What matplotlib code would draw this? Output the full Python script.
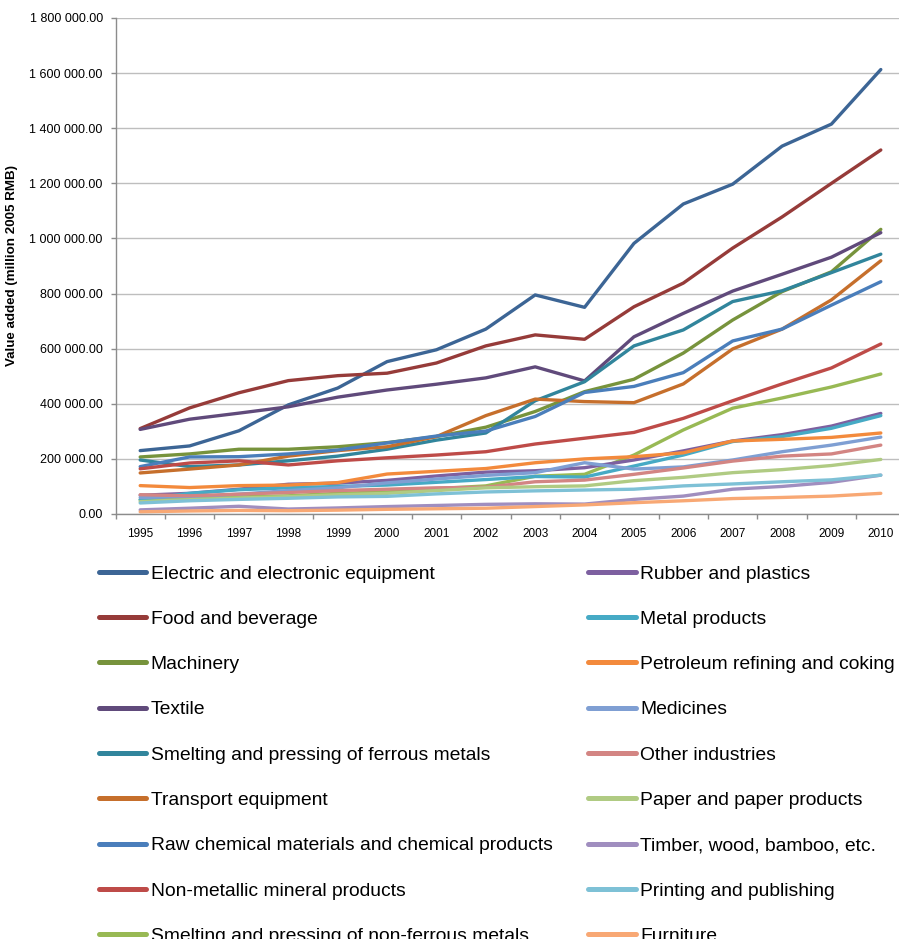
import matplotlib
matplotlib.use("Agg")
import matplotlib.pyplot as plt
import numpy as np
from matplotlib.ticker import FuncFormatter, FixedLocator

years = list(range(1995, 2011))

# values in thousand million 2005 RMB (multiplied by 1000 when plotted)
electric   = [230, 247, 302, 396, 457, 553, 596, 671, 795, 750, 982, 1125, 1197, 1335, 1415, 1613]
food       = [310, 385, 440, 484, 502, 511, 548, 610, 650, 634, 752, 838, 965, 1078, 1200, 1321]
machinery  = [207, 218, 235, 235, 244, 259, 281, 315, 372, 444, 489, 584, 704, 807, 879, 1033]
textile    = [307, 344, 366, 389, 424, 450, 471, 494, 534, 483, 643, 728, 809, 870, 932, 1021]
ferrous    = [196, 172, 178, 193, 210, 235, 268, 294, 411, 480, 610, 668, 771, 810, 876, 943]
transport  = [149, 163, 178, 210, 230, 244, 281, 357, 417, 408, 404, 472, 599, 671, 777, 919]
rawchem    = [172, 207, 208, 218, 232, 258, 283, 301, 354, 441, 463, 513, 628, 671, 758, 843]
nonmetal   = [164, 185, 193, 178, 193, 204, 214, 226, 254, 275, 296, 347, 411, 472, 530, 617]
nonferrous = [52, 57, 62, 66, 75, 80, 92, 102, 137, 144, 214, 305, 384, 421, 461, 508]
rubber     = [68, 75, 90, 108, 112, 122, 138, 152, 157, 168, 196, 229, 265, 288, 319, 365]
metal      = [52, 75, 88, 95, 100, 105, 115, 125, 136, 134, 174, 214, 263, 281, 311, 357]
petroleum  = [103, 96, 103, 105, 114, 145, 155, 165, 186, 200, 208, 222, 265, 271, 278, 294]
medicines  = [60, 63, 72, 85, 95, 113, 127, 140, 150, 186, 163, 171, 196, 226, 250, 279]
other      = [70, 66, 72, 78, 85, 90, 95, 97, 117, 123, 144, 167, 192, 210, 218, 250]
paper      = [45, 52, 58, 63, 70, 75, 85, 95, 99, 102, 121, 133, 150, 161, 176, 198]
timber     = [15, 21, 28, 18, 22, 27, 31, 35, 37, 36, 53, 65, 90, 100, 115, 141]
printing   = [40, 48, 53, 57, 62, 64, 73, 80, 84, 87, 90, 102, 109, 117, 124, 141]
furniture  = [8, 11, 13, 12, 14, 17, 19, 21, 27, 33, 41, 48, 56, 60, 65, 75]

labels = [
    "Electric and electronic equipment", "Food and beverage", "Machinery", "Textile",
    "Smelting and pressing of ferrous metals", "Transport equipment",
    "Raw chemical materials and chemical products", "Non-metallic mineral products",
    "Smelting and pressing of non-ferrous metals", "Rubber and plastics", "Metal products",
    "Petroleum refining and coking", "Medicines", "Other industries", "Paper and paper products",
    "Timber, wood, bamboo, etc.", "Printing and publishing", "Furniture",
]
series = [electric, food, machinery, textile, ferrous, transport, rawchem, nonmetal,
          nonferrous, rubber, metal, petroleum, medicines, other, paper, timber, printing, furniture]
colors = ["#3C6595", "#963B39", "#77933C", "#604A7B", "#31859C", "#C66F2C",
          "#4A7EBB", "#BE4B48", "#98B954", "#7D60A0", "#46AAC5", "#F38A3C",
          "#7F9FD3", "#D38583", "#B0CB83", "#A08EBF", "#7EC1D6", "#F8A874"]

ytick_vals = [0, 200000, 400000, 600000, 800000, 1000000, 1200000, 1400000, 1600000, 1800000]

plt.rcParams['font.family'] = ['Liberation Sans', 'DejaVu Sans']

W, H = 899, 939
fig = plt.figure(figsize=(W / 100, H / 100), dpi=100)
ax = fig.add_axes([115.5 / W, (H - 514) / H, 790 / W, 496 / H])

for vals, lab, col in zip(series, labels, colors):
    ax.plot(years, np.array(vals) * 1000, color=col, lw=2.4, label=lab,
            solid_capstyle='round', solid_joinstyle='round')

ax.set_xlim(1994.5, 2010.5)
ax.set_ylim(0, 1800000)
ax.yaxis.set_major_locator(FixedLocator(ytick_vals))
ax.yaxis.set_major_formatter(FuncFormatter(lambda v, p: f"{v:,.2f}".replace(",", " ")))
ax.xaxis.set_major_locator(FixedLocator(years))
ax.xaxis.set_minor_locator(FixedLocator([y - 0.5 for y in years] + [2010.5]))
ax.xaxis.set_major_formatter(FuncFormatter(lambda v, p: f"{int(round(v))}"))

ax.grid(axis='y', color='#BEBEBE', lw=1.0)
ax.set_axisbelow(True)
for s in ['top', 'right']:
    ax.spines[s].set_visible(False)
for s in ['left', 'bottom']:
    ax.spines[s].set_color('#8C8C8C')
    ax.spines[s].set_linewidth(1.0)

ax.tick_params(axis='y', which='major', length=3.6, width=1, color='#8C8C8C',
               labelsize=9, pad=5.5, labelcolor='#000000')
ax.tick_params(axis='x', which='major', length=0, labelsize=8.5, pad=10, labelcolor='#000000')
ax.tick_params(axis='x', which='minor', length=3.6, width=1, color='#8C8C8C')

ax.set_ylabel("Value added (million 2005 RMB)", fontsize=9.6, fontweight='bold')
ax.yaxis.set_label_coords((18 - 115.5) / 790, 0.5)

fs = 13.9
leg = ax.legend(loc='upper left', bbox_to_anchor=(99 / W, (H - 565) / H),
                bbox_transform=fig.transFigure, ncol=2, frameon=False, fontsize=fs,
                borderpad=0, borderaxespad=0, handlelength=2.45, handletextpad=0.22,
                labelspacing=1.44, columnspacing=1.86)
for line in leg.get_lines():
    line.set_linewidth(3.6)

fig.savefig("out.png", dpi=100)
